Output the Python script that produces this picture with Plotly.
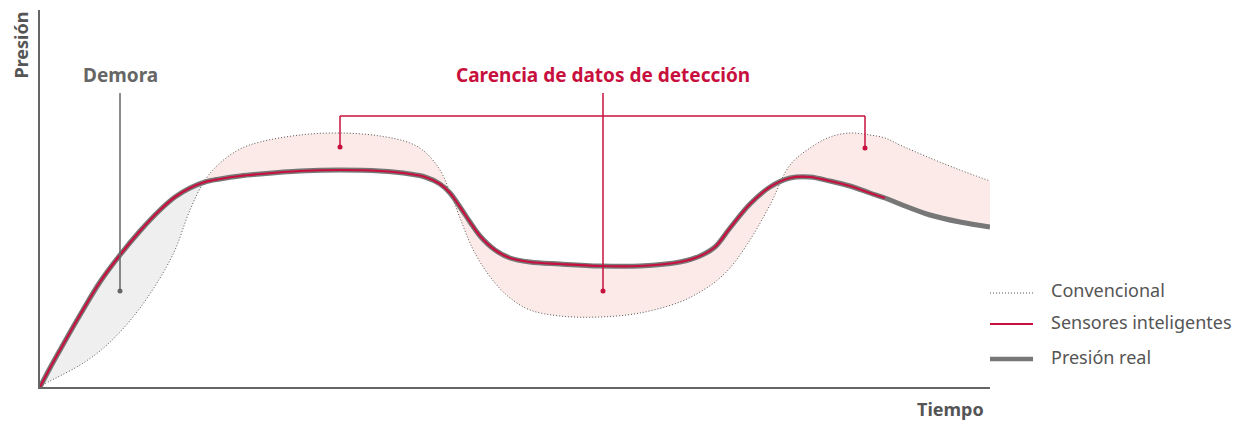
import plotly.graph_objects as go

# Time axis (arbitrary units) and pressure values (arbitrary units)
time = [0, 10, 20, 40, 60, 80, 100, 120, 135, 150, 165, 180, 200, 220, 260, 300, 340, 370,
        385, 400, 410, 420, 430, 440, 455, 470, 490, 520, 560, 600, 640, 660, 675, 690,
        710, 730, 750, 770, 790, 810, 830, 845, 860, 890, 920, 950]
real_pressure = [0, 19, 37, 72, 105, 132, 156, 177, 190, 199, 205, 208, 211, 213, 216, 217,
                 216, 213, 210, 203, 194, 180, 165, 151, 137, 129, 125, 123, 121, 121, 125,
                 131, 140, 159, 183, 200, 209, 210, 206, 201, 194, 189, 183, 172, 165, 160]
conventional = [0, 6, 11, 22, 36, 55, 79, 109, 137, 177, 207, 224, 238, 245, 252, 254, 251,
                244, 235, 217, 195, 169, 144, 125, 104, 89, 77, 71, 70, 74, 85, 95, 105, 119,
                147, 182, 222, 239, 250, 254, 252, 249, 242, 229, 217, 206]
sensor_end_index = 41  # smart sensors trace stops here

split = 10  # crossing of conventional and real curves (end of "Demora")

legend_items = ["Convencional", "Sensores inteligentes", "Presión real"]

RED = "#c8103e"
GRAY_LINE = "#777777"
TEXT = "#555555"
FONT = "Noto Sans"
DOT = "1px,2px"

fig = go.Figure()

# Fill: Demora (grey)
fig.add_trace(go.Scatter(x=time[:split + 1], y=real_pressure[:split + 1], mode="lines",
                         line=dict(width=0, shape="spline"), hoverinfo="skip", showlegend=False))
fig.add_trace(go.Scatter(x=time[:split + 1], y=conventional[:split + 1], mode="lines",
                         line=dict(width=0, shape="spline"), fill="tonexty",
                         fillcolor="#efefef", hoverinfo="skip", showlegend=False))
# Fill: lack of data (pink)
fig.add_trace(go.Scatter(x=time[split:], y=real_pressure[split:], mode="lines",
                         line=dict(width=0, shape="spline"), hoverinfo="skip", showlegend=False))
fig.add_trace(go.Scatter(x=time[split:], y=conventional[split:], mode="lines",
                         line=dict(width=0, shape="spline"), fill="tonexty",
                         fillcolor="#fbeae7", hoverinfo="skip", showlegend=False))

# Conventional dotted line
fig.add_trace(go.Scatter(x=time, y=conventional, mode="lines",
                         line=dict(color="#555555", width=1, dash=DOT, shape="spline"),
                         showlegend=False, hoverinfo="skip"))
# Real pressure thick gray
fig.add_trace(go.Scatter(x=time, y=real_pressure, mode="lines",
                         line=dict(color=GRAY_LINE, width=5, shape="spline"),
                         showlegend=False, hoverinfo="skip"))
# Smart sensors red
fig.add_trace(go.Scatter(x=time[:sensor_end_index + 1], y=real_pressure[:sensor_end_index + 1],
                         mode="lines", line=dict(color=RED, width=2.2, shape="spline"),
                         showlegend=False, hoverinfo="skip"))

shapes = []
# Demora leader
shapes.append(dict(type="line", xref="x", yref="y", x0=80, x1=80, y0=294, y1=96,
                   line=dict(color="#666666", width=1.5)))
shapes.append(dict(type="circle", xref="x", yref="y", x0=77.5, x1=82.5, y0=93.5, y1=98.5,
                   fillcolor="#666666", line=dict(width=0)))
# Carencia leaders
shapes.append(dict(type="line", xref="x", yref="y", x0=563, x1=563, y0=294, y1=96,
                   line=dict(color=RED, width=1.5)))
shapes.append(dict(type="circle", xref="x", yref="y", x0=560.5, x1=565.5, y0=93.5, y1=98.5,
                   fillcolor=RED, line=dict(width=0)))
shapes.append(dict(type="line", xref="x", yref="y", x0=300, x1=825, y0=271, y1=271,
                   line=dict(color=RED, width=1.5)))
shapes.append(dict(type="line", xref="x", yref="y", x0=300, x1=300, y0=271, y1=240,
                   line=dict(color=RED, width=1.5)))
shapes.append(dict(type="circle", xref="x", yref="y", x0=297.5, x1=302.5, y0=237.5, y1=242.5,
                   fillcolor=RED, line=dict(width=0)))
shapes.append(dict(type="line", xref="x", yref="y", x0=825, x1=825, y0=271, y1=239,
                   line=dict(color=RED, width=1.5)))
shapes.append(dict(type="circle", xref="x", yref="y", x0=822.5, x1=827.5, y0=236.5, y1=241.5,
                   fillcolor=RED, line=dict(width=0)))

# Legend (manual, paper coordinates outside the plot area)
legend_line_y = [0.2493, 0.1671, 0.0743]
legend_text_y = [0.2573, 0.1724, 0.0796]
legend_styles = [dict(color="#555555", width=1, dash=DOT),
                 dict(color=RED, width=2),
                 dict(color=GRAY_LINE, width=4.5)]
for ly, st in zip(legend_line_y, legend_styles):
    shapes.append(dict(type="line", xref="paper", yref="paper", x0=1.0, x1=1.0453,
                       y0=ly, y1=ly, line=st))

annotations = []
for label, ty in zip(legend_items, legend_text_y):
    annotations.append(dict(xref="paper", yref="paper", x=1.0625, y=ty, text=label,
                            showarrow=False, xanchor="left", yanchor="middle",
                            font=dict(family=FONT, size=18, color=TEXT)))

annotations += [
    dict(xref="paper", yref="paper", x=-0.021, y=1.0, text="<b>Presión</b>", textangle=-90,
         showarrow=False, xanchor="center", yanchor="top",
         font=dict(family=FONT, size=18, color=TEXT)),
    dict(xref="paper", yref="paper", x=0.996, y=-0.022, text="<b>Tiempo</b>", showarrow=False,
         xanchor="right", yanchor="top", font=dict(family=FONT, size=18, color=TEXT)),
    dict(xref="x", yref="y", x=80, y=312, text="<b>Demora</b>", showarrow=False,
         xanchor="center", yanchor="middle", font=dict(family=FONT, size=19, color="#666666")),
    dict(xref="x", yref="y", x=563, y=312, text="<b>Carencia de datos de detección</b>",
         showarrow=False, xanchor="center", yanchor="middle",
         font=dict(family=FONT, size=19, color=RED)),
]

# The page adds an 8px body margin, so the figure is 8px smaller than the window
fig.update_layout(
    width=1240, height=416,
    margin=dict(l=32, r=258, t=2, b=37),
    paper_bgcolor="white", plot_bgcolor="white",
    shapes=shapes, annotations=annotations,
    showlegend=False,
    xaxis=dict(range=[0, 950], showgrid=False, zeroline=False, showticklabels=False,
               ticks="", showline=True, linecolor="#666666", linewidth=2, fixedrange=True),
    yaxis=dict(range=[0, 377], showgrid=False, zeroline=False, showticklabels=False,
               ticks="", showline=True, linecolor="#666666", linewidth=2, fixedrange=True),
)

fig.write_html("out.html")
